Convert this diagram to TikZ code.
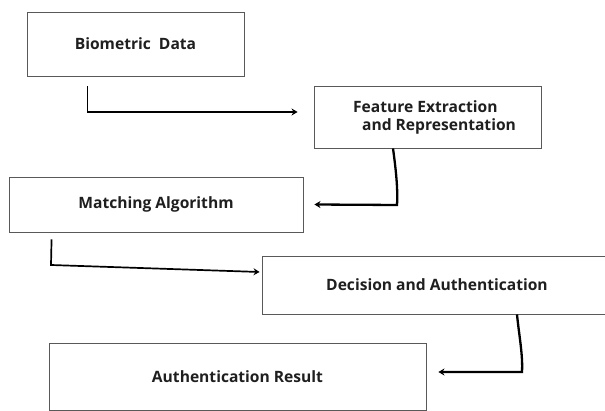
\documentclass[tikz,border=0pt]{standalone}
\usepackage{fontspec}
\setmainfont{Open Sans}
\usetikzlibrary{arrows.meta}
\begin{document}
\begin{tikzpicture}[x=1pt,y=-1pt,
  box/.style={draw=black!65, line width=0.9pt, rectangle, inner sep=0pt,
    font=\fontsize{15.6}{18}\selectfont\bfseries, text=black!88},
  arr/.style={draw=black, line width=1.5pt, -{Stealth[length=6pt,width=7pt]}},
  arrthick/.style={arr, line width=2.3pt}]
\path[use as bounding box, fill=white] (0,0) rectangle (605,411);
\begin{scope}
\clip (0,0) rectangle (605,411);
\node[box, minimum width=217pt, minimum height=64pt] (b1) at (135.5,44) {Biometric\ \ Data};
\node[box, minimum width=227pt, minimum height=62pt, align=left] (b2) at (427.5,117)
  {\hspace*{14pt}Feature Extraction\\\hspace*{23pt}and Representation};
\node[box, minimum width=294pt, minimum height=55pt] (b3) at (156,204.5) {Matching Algorithm};
\node[box, minimum width=350pt, minimum height=58pt] (b4) at (437,285) {Decision and Authentication};
\node[box, minimum width=377pt, minimum height=67pt] (b5) at (237.5,376.5) {Authentication Result};
\end{scope}
\coordinate (c2) at (397,205);
\coordinate (c3) at (51,265);
\coordinate (c4) at (522,372);
\draw[arr] ([xshift=61pt,yshift=-10pt]b1.south west) |- ([xshift=-16pt,yshift=5pt]b2.west);
\draw[arrthick] ([xshift=-34.5pt]b2.south) .. controls (396,170) and (398,190) .. (c2) -- ([xshift=11pt]b3.east);
\draw[arr, line width=1.7pt] ([xshift=43pt,yshift=-7pt]b3.south west) -- (c3) -- ([xshift=-2pt,yshift=13pt]b4.west);
\draw[arrthick] ([xshift=80pt]b4.south) .. controls (519,335) and (523,355) .. (c4) -- ([xshift=12pt,yshift=4.5pt]b5.east);
\end{tikzpicture}
\end{document}
